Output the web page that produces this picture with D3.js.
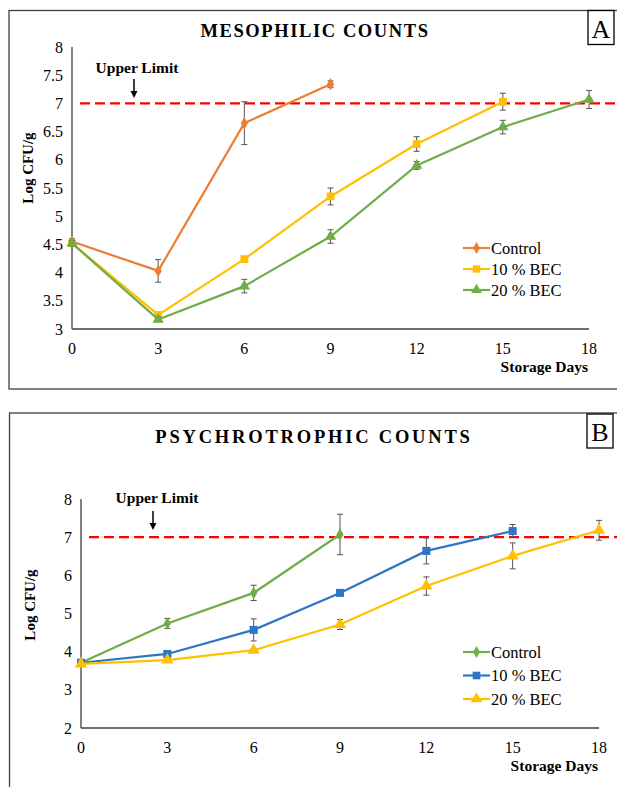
<!DOCTYPE html>
<html>
<head>
<meta charset="utf-8">
<script src="https://cdn.jsdelivr.net/npm/d3@7"></script>
<style>
  html, body { margin: 0; padding: 0; background: #fff; }
  svg { display: block; font-family: "Liberation Serif", "Times New Roman", serif; }
</style>
</head>
<body>
<svg id="chart" width="617" height="787"></svg>
<script>
// --- Data ---
const days = [0, 3, 6, 9, 12, 15, 18];
const xTicks = [0, 3, 6, 9, 12, 15, 18];
const yTicksA = [3, 3.5, 4, 4.5, 5, 5.5, 6, 6.5, 7, 7.5, 8];
const yTicksB = [2, 3, 4, 5, 6, 7, 8];
const upperLimit = 7;

// Panel A: mesophilic
const mesoControl = [4.55, 4.03, 6.65, 7.34];
const mesoControlErr = [0.05, 0.2, 0.38, 0.06];
const meso10 = [4.52, 3.25, 4.24, 5.35, 6.28, 7.03];
const meso10Err = [0.05, 0.04, 0.04, 0.15, 0.13, 0.15];
const meso20 = [4.52, 3.17, 3.76, 4.64, 5.9, 6.58, 7.07];
const meso20Err = [0.05, 0.04, 0.12, 0.12, 0.07, 0.12, 0.16];

// Panel B: psychrotrophic
const psyControl = [3.71, 4.74, 5.54, 7.07];
const psyControlErr = [0.05, 0.13, 0.2, 0.53];
const psy10 = [3.71, 3.94, 4.57, 5.54, 6.64, 7.16];
const psy10Err = [0.05, 0.04, 0.29, 0.04, 0.34, 0.17];
const psy20 = [3.68, 3.78, 4.04, 4.71, 5.72, 6.51, 7.18];
const psy20Err = [0.05, 0.04, 0.04, 0.13, 0.24, 0.34, 0.26];

const seriesNames = ['Control', '10 % BEC', '20 % BEC'];

const svg = d3.select('#chart');

function drawPanel(cfg) {
    const g = svg.append('g');

    // frame
    g.append('rect')
        .attr('x', cfg.frame.x).attr('y', cfg.frame.y)
        .attr('width', cfg.frame.w).attr('height', cfg.frame.h)
        .attr('fill', 'none').attr('stroke', '#404040').attr('stroke-width', 1.3);

    // letter box
    g.append('rect')
        .attr('x', cfg.letterBox.x).attr('y', cfg.letterBox.y)
        .attr('width', 26).attr('height', 34)
        .attr('fill', '#fff').attr('stroke', '#000').attr('stroke-width', 1.3);
    g.append('text')
        .attr('x', cfg.letterBox.x + 13).attr('y', cfg.letterBox.y + 27)
        .attr('text-anchor', 'middle')
        .attr('font-size', 26)
        .text(cfg.letter);

    // title
    g.append('text')
        .attr('x', cfg.titleX).attr('y', cfg.titleY)
        .attr('text-anchor', 'middle')
        .attr('font-size', 18.5).attr('font-weight', 'bold')
        .attr('letter-spacing', cfg.titleSpacing)
        .text(cfg.title);

    const x = d3.scaleLinear().domain([0, 18]).range([cfg.plot.x0, cfg.plot.x1]);
    const y = d3.scaleLinear().domain(cfg.yDomain).range([cfg.plot.y1, cfg.plot.y0]);

    // axes lines
    g.append('line')
        .attr('x1', x(0)).attr('x2', x(0))
        .attr('y1', y(cfg.yDomain[1])).attr('y2', y(cfg.yDomain[0]))
        .attr('stroke', '#404040').attr('stroke-width', 1.3);
    g.append('line')
        .attr('x1', x(0)).attr('x2', x(18))
        .attr('y1', y(cfg.yDomain[0])).attr('y2', y(cfg.yDomain[0]))
        .attr('stroke', '#404040').attr('stroke-width', 1.3);

    // tick labels
    g.selectAll('.ytick').data(cfg.yTicks).enter().append('text')
        .attr('x', x(0) - 9).attr('y', d => y(d) + 5.5)
        .attr('text-anchor', 'end').attr('font-size', 16)
        .text(d => d);
    g.selectAll('.xtick').data(xTicks).enter().append('text')
        .attr('x', d => x(d)).attr('y', y(cfg.yDomain[0]) + 25)
        .attr('text-anchor', 'middle').attr('font-size', 16)
        .text(d => d);

    // axis titles
    g.append('text')
        .attr('x', x(18) - 1).attr('y', y(cfg.yDomain[0]) + 43)
        .attr('text-anchor', 'end').attr('font-size', 15.5).attr('font-weight', 'bold')
        .text('Storage Days');
    g.append('text')
        .attr('transform', `translate(${cfg.yTitleX},${cfg.yTitleY}) rotate(-90)`)
        .attr('text-anchor', 'middle').attr('font-size', 15).attr('font-weight', 'bold')
        .text('Log CFU/g');

    // upper limit line
    g.append('line')
        .attr('x1', x(0) + 8).attr('x2', 617)
        .attr('y1', y(upperLimit)).attr('y2', y(upperLimit))
        .attr('stroke', '#ff0000').attr('stroke-width', 2.2)
        .attr('stroke-dasharray', '10,5');
    g.append('text')
        .attr('x', cfg.limitX).attr('y', cfg.limitY)
        .attr('text-anchor', 'middle').attr('font-size', 15.5).attr('font-weight', 'bold')
        .text('Upper Limit');
    g.append('line')
        .attr('x1', cfg.arrowX).attr('x2', cfg.arrowX)
        .attr('y1', cfg.arrowY0).attr('y2', cfg.arrowY1 - 6)
        .attr('stroke', '#000').attr('stroke-width', 1.5);
    g.append('path')
        .attr('d', `M${cfg.arrowX - 3.5},${cfg.arrowY1 - 7} L${cfg.arrowX + 3.5},${cfg.arrowY1 - 7} L${cfg.arrowX},${cfg.arrowY1} Z`)
        .attr('fill', '#000');

    const line = d3.line().x((d, i) => x(days[i])).y(d => y(d));

    cfg.series.forEach((s, si) => {
        const sg = g.append('g');
        // error bars
        s.values.forEach((v, i) => {
            const e = s.err[i];
            const cx = x(days[i]);
            sg.append('line')
                .attr('x1', cx).attr('x2', cx)
                .attr('y1', y(v - e)).attr('y2', y(v + e))
                .attr('stroke', '#555').attr('stroke-width', 1);
            [v - e, v + e].forEach(w => {
                sg.append('line')
                    .attr('x1', cx - 3).attr('x2', cx + 3)
                    .attr('y1', y(w)).attr('y2', y(w))
                    .attr('stroke', '#555').attr('stroke-width', 1);
            });
        });
        sg.append('path')
            .datum(s.values)
            .attr('d', line)
            .attr('fill', 'none').attr('stroke', s.color).attr('stroke-width', 2.2);
        sg.selectAll('.pt').data(s.values).enter().append('path')
            .attr('transform', (d, i) => `translate(${x(days[i])},${y(d)})`)
            .attr('d', d3.symbol().type(s.symbol).size(s.size))
            .attr('fill', s.color);

        // legend
        const ly = cfg.legend.y + si * cfg.legend.dy;
        const lx = cfg.legend.x;
        sg.append('line')
            .attr('x1', lx).attr('x2', lx + 27)
            .attr('y1', ly).attr('y2', ly)
            .attr('stroke', s.color).attr('stroke-width', 2.2);
        sg.append('path')
            .attr('transform', `translate(${lx + 13.5},${ly})`)
            .attr('d', d3.symbol().type(s.symbol).size(s.size * 0.9))
            .attr('fill', s.color);
        sg.append('text')
            .attr('x', lx + 28).attr('y', ly + 5.5)
            .attr('font-size', 16.5)
            .text(seriesNames[si]);
    });
}

const orange = '#ED7D31', yellow = '#FFC000', green = '#70AD47', blue = '#2E75C6';

drawPanel({
    frame: { x: 9, y: 10.5, w: 620, h: 378.5 },
    letter: 'A', letterBox: { x: 588, y: 10.5 },
    title: 'MESOPHILIC COUNTS', titleX: 315, titleY: 37, titleSpacing: 1.6,
    plot: { x0: 72, x1: 589, y0: 47, y1: 329 },
    yDomain: [3, 8], yTicks: yTicksA,
    yTitleX: 33, yTitleY: 168,
    limitX: 137, limitY: 73, arrowX: 134, arrowY0: 79, arrowY1: 98,
    legend: { x: 463, y: 248, dy: 21 },
    series: [
        { values: mesoControl, err: mesoControlErr, color: orange, symbol: d3.symbolDiamond, size: 45 },
        { values: meso10, err: meso10Err, color: yellow, symbol: d3.symbolSquare, size: 60 },
        { values: meso20, err: meso20Err, color: green, symbol: d3.symbolTriangle, size: 55 }
    ]
});

drawPanel({
    frame: { x: 9.5, y: 413, w: 620, h: 400 },
    letter: 'B', letterBox: { x: 587, y: 414 },
    title: 'PSYCHROTROPHIC COUNTS', titleX: 314, titleY: 443, titleSpacing: 2.8,
    plot: { x0: 81, x1: 599, y0: 499, y1: 728 },
    yDomain: [2, 8], yTicks: yTicksB,
    yTitleX: 35, yTitleY: 605,
    limitX: 157, limitY: 503, arrowX: 153, arrowY0: 511, arrowY1: 530,
    legend: { x: 463, y: 652, dy: 23.5 },
    series: [
        { values: psyControl, err: psyControlErr, color: green, symbol: d3.symbolDiamond, size: 45 },
        { values: psy10, err: psy10Err, color: blue, symbol: d3.symbolSquare, size: 65 },
        { values: psy20, err: psy20Err, color: yellow, symbol: d3.symbolTriangle, size: 65 }
    ]
});
</script>
</body>
</html>
